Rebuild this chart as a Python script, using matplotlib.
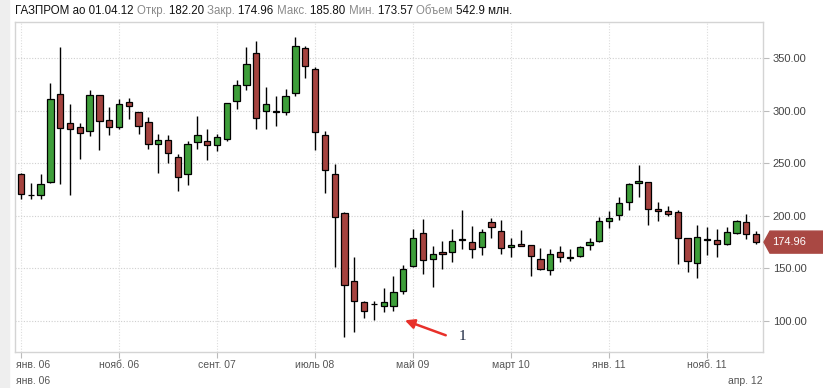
#!/usr/bin/env python3
import numpy as np
import matplotlib
matplotlib.use("Agg")
import matplotlib.pyplot as plt
import matplotlib.transforms as mtransforms
from matplotlib.patches import Polygon

# monthly candles, янв. 2006 .. апр. 2012
opens = [239.4, 219.5, 219.5, 232.0, 315.5, 287.9, 284.1, 280.6, 314.5, 291.0,
         284.1, 307.9, 298.4, 288.9, 268.0, 271.8, 255.6, 239.4, 269.9, 270.8,
         267.0, 273.3, 308.8, 324.0, 354.5, 299.4, 299.0, 298.7, 316.5, 359.2,
         339.3, 276.5, 239.4, 202.4, 138.0, 117.8, 115.9, 114.3, 114.0, 128.5,
         152.6, 183.4, 158.9, 165.9, 165.6, 177.0, 175.1, 170.3, 193.8, 185.2,
         170.0, 172.9, 172.0, 158.7, 148.2, 165.6, 160.0, 161.5, 172.0, 175.8,
         194.8, 200.5, 212.8, 230.8, 231.8, 206.1, 204.2, 203.3, 178.6, 154.9,
         177.1, 176.7, 172.9, 183.4, 193.8, 182.20]
highs = [240.5, 231.0, 240.0, 326.5, 360.0, 306.3, 288.5, 319.6, 315.0, 303.7,
         311.3, 312.3, 299.0, 293.6, 277.8, 276.8, 258.8, 271.1, 294.9, 282.8,
         277.8, 307.0, 329.0, 360.2, 366.0, 322.0, 313.9, 320.2, 370.3, 361.5,
         341.8, 280.6, 249.2, 204.0, 160.6, 119.3, 118.7, 131.7, 142.8, 153.0,
         187.2, 196.7, 171.3, 175.8, 187.2, 205.5, 190.3, 187.2, 197.6, 196.0,
         178.6, 186.2, 172.5, 169.3, 168.2, 171.0, 168.2, 171.0, 178.6, 198.6,
         204.2, 217.6, 230.8, 247.9, 232.3, 212.8, 209.0, 205.2, 179.0, 191.3,
         189.8, 187.2, 188.9, 196.0, 201.7, 185.80]
lows = [216.0, 216.0, 215.7, 231.5, 230.2, 219.8, 253.7, 275.9, 262.5, 276.5,
        282.8, 291.7, 277.5, 263.2, 241.0, 250.5, 223.8, 229.7, 263.5, 253.4,
        261.2, 271.4, 301.8, 319.6, 282.3, 282.3, 285.4, 295.5, 314.2, 330.7,
        262.5, 221.3, 151.0, 85.1, 89.8, 103.1, 101.0, 108.3, 109.8, 125.7,
        151.7, 144.4, 132.0, 149.1, 156.1, 168.1, 159.9, 162.4, 178.6, 163.4,
        160.6, 170.8, 143.0, 148.2, 144.0, 155.8, 156.7, 160.6, 167.2, 175.5,
        188.1, 195.7, 205.2, 217.6, 190.9, 194.8, 199.5, 154.0, 146.9, 140.6,
        162.7, 161.1, 172.5, 183.0, 177.7, 173.57]
closes = [220.4, 220.0, 230.5, 310.7, 283.2, 282.8, 278.4, 314.5, 290.1, 284.1,
          306.0, 304.1, 285.1, 268.0, 271.8, 259.3, 236.6, 268.5, 276.5, 267.0,
          274.6, 306.9, 324.0, 344.0, 293.0, 306.0, 299.5, 313.5, 361.4, 342.4,
          279.4, 243.3, 198.6, 133.9, 118.7, 109.2, 116.3, 117.8, 127.3, 149.1,
          178.6, 158.0, 163.4, 163.7, 175.8, 177.6, 168.4, 184.4, 189.4, 169.3,
          172.0, 171.0, 161.5, 149.1, 163.4, 160.6, 160.4, 170.0, 174.8, 194.8,
          197.6, 211.9, 229.9, 232.8, 206.1, 204.2, 201.4, 178.6, 157.0, 180.2,
          177.5, 172.9, 184.3, 194.8, 182.4, 174.96]

tick_idx = [0, 10, 20, 30, 40, 50, 60, 70]
tick_labels = ["янв. 06", "нояб. 06", "сент. 07", "июль 08",
               "май 09", "март 10", "янв. 11", "нояб. 11"]
range_labels = ["янв. 06", "апр. 12"]
y_ticks = [100, 150, 200, 250, 300, 350]

header = [("ГАЗПРОМ ао 01.04.12 ", "#111111"), ("Откр. ", "#8a8a8a"),
          ("182.20 ", "#111111"), ("Закр. ", "#8a8a8a"), ("174.96 ", "#111111"),
          ("Макс. ", "#8a8a8a"), ("185.80 ", "#111111"), ("Мин. ", "#8a8a8a"),
          ("173.57 ", "#111111"), ("Объем ", "#8a8a8a"), ("542.9 млн.", "#111111")]

W, H = 823, 388
UP = "#3e9e3a"
DOWN = "#a5433f"
GRID = "#cfcfcf"
FONT = ["Liberation Sans", "DejaVu Sans"]
plt.rcParams["font.family"] = FONT


def fx(x):
    return x / W


def fy(y):
    return 1 - y / H


fig = plt.figure(figsize=(W / 100, H / 100), dpi=100)
fig.patches.append(plt.Rectangle((0, 0), fx(9), 1, transform=fig.transFigure,
                                 color="#eeeeee", zorder=0))

ax = fig.add_axes([fx(15), fy(352), fx(763) - fx(15), fy(22) - fy(352)])
ax.set_xlim(-0.61, 75.7)
ax.set_ylim(70.5, 384.2)

o = np.array(opens)
c = np.array(closes)
x = np.arange(len(o))
colors = np.where(c >= o, UP, DOWN)
ax.vlines(x, lows, highs, color="black", lw=1.0, zorder=2)
body = np.maximum(np.abs(c - o), 0.6)
ax.bar(x, body, bottom=np.minimum(o, c), width=0.64, color=colors,
       edgecolor="black", linewidth=0.9, zorder=3)

# grid
for v in y_ticks:
    ax.axhline(v, color=GRID, lw=0.8, ls=(0, (1, 1.5)), zorder=1)
for t in tick_idx:
    ax.axvline(t, color="#dddddd", lw=0.8, ls=(0, (1, 1.5)), zorder=1)

for s in ax.spines.values():
    s.set_color("#d4d4d4")
    s.set_linewidth(1.0)

ax.yaxis.tick_right()
ax.set_yticks(y_ticks)
ax.set_yticklabels([f"{v:.2f}" for v in y_ticks])
ax.tick_params(axis="y", length=4, width=0.8, color="#bbbbbb", pad=3,
               labelsize=8, labelcolor="#444444")
ax.set_xticks(tick_idx)
ax.set_xticklabels(tick_labels)
ax.tick_params(axis="x", length=4, width=0.8, color="#bbbbbb", pad=2,
               labelsize=7.5, labelcolor="#555555")
first = ax.get_xticklabels()[0]
first.set_horizontalalignment("left")
first.set_transform(first.get_transform() +
                    mtransforms.ScaledTranslation(-5 / 100, 0, fig.dpi_scale_trans))

# header line
renderer = fig.canvas.get_renderer()
xpos = 15
for txt, col in header:
    t = fig.text(fx(xpos), fy(11), txt, color=col, fontsize=8.3,
                 va="center", ha="left")
    bb = t.get_window_extent(renderer=renderer)
    xpos += bb.width

# range labels below
fig.text(fx(16), fy(381), range_labels[0], fontsize=7.5, color="#555555",
         va="center", ha="left")
fig.text(fx(763), fy(381), range_labels[1], fontsize=7.5, color="#555555",
         va="center", ha="right")

# last price flag
last = closes[-1]
yd = ax.transData.transform((0, last))[1]
yc = yd / fig.bbox.height
hh = 11 / H
flag = Polygon([(fx(764), yc), (fx(770), yc + hh), (1.0, yc + hh),
                (1.0, yc - hh), (fx(770), yc - hh)], closed=True,
               transform=fig.transFigure, color="#a94843", zorder=5)
fig.patches.append(flag)
fig.text(fx(772), yc, f"{last:.2f}", color="white", fontsize=8,
         va="center", ha="left", zorder=6)

# annotation arrow
ax.annotate("", xy=(38.9, 101.5), xytext=(43.6, 85.5),
            arrowprops=dict(arrowstyle="-|>", color="#e8302a", lw=1.8,
                            mutation_scale=14), annotation_clip=False)
ax.text(45.0, 85.5, "1", fontsize=11, color="#1c2740", family="Liberation Serif",
        va="center", ha="center", clip_on=False)

fig.savefig("out.png", dpi=100)
